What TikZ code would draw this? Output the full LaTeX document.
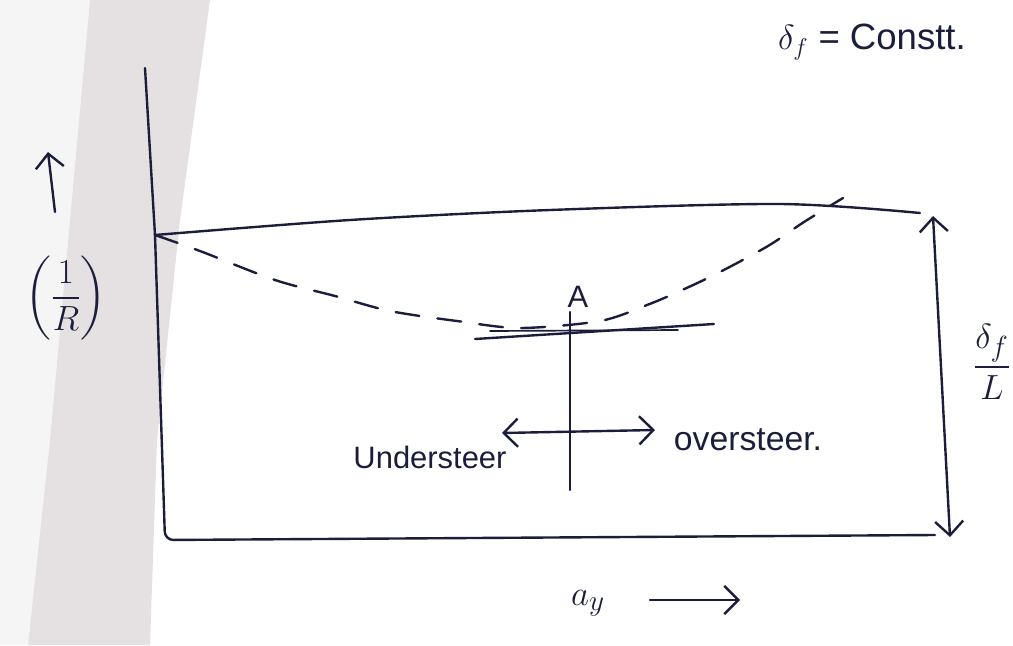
\documentclass[tikz,border=0pt]{standalone}
\usepackage{amsmath}
\usepackage{fontspec}
\setmainfont{Liberation Sans}
\usepackage{xcolor}
\usetikzlibrary{arrows.meta,positioning}
\definecolor{ink}{RGB}{26,30,58}
\definecolor{fold}{RGB}{229,224,226}
\definecolor{paper}{RGB}{246,245,246}
\tikzset{
  pen/.style={draw=ink, line width=1.7pt, line cap=round, line join=round},
  dashpen/.style={pen, dash pattern=on 17pt off 13pt},
  arr/.style={pen, -{Straight Barb[length=10pt,width=20pt]}},
  dblarr/.style={pen, {Straight Barb[length=10pt,width=20pt]}-{Straight Barb[length=10pt,width=20pt]}},
  hand/.style={text=ink, inner sep=1pt, font=\fontsize{22}{26}\selectfont},
  bighand/.style={hand, font=\fontsize{30}{34}\selectfont},
}

\begin{document}
\begin{tikzpicture}[x=0.025cm, y=-0.025cm]
  \useasboundingbox (0,0) rectangle (1013,645);
  % paper fold on the left
  \fill[paper] (0,0) -- (90,0) -- (50,440) -- (28,645) -- (0,645) -- cycle;
  \fill[fold] (90,0) -- (210,0) -- (180,220) -- (157,440) -- (150,645)
    -- (28,645) -- (50,440) -- cycle;

  % axes corners
  \coordinate (ytop) at (145,68);
  \coordinate (orig) at (155,235);
  \coordinate (xl) at (165,540);
  \coordinate (xr) at (935,535);
  \draw[pen, rounded corners=6pt] (ytop) -- (orig) -- (xl) -- (xr);

  % steady state line and dashed curve
  \draw[pen] plot[smooth] coordinates {(155,235) (350,220) (550,210) (780,204) (920,213)};
  \draw[dashpen] plot[smooth] coordinates {(155,235) (200,251) (275,280) (335,296)
    (390,311) (457,321) (520,328) (600,321) (647,305) (680,291) (718,273)
    (768,246) (804,222) (843,198)};

  % point A
  \coordinate (hl1) at (475,339);
  \coordinate (hr1) at (714,324);
  \coordinate (hl2) at (490,331);
  \coordinate (hr2) at (678,330);
  \draw[pen] (hl1) -- (hr1);
  \draw[pen, line width=1.2pt] (hl2) -- (hr2);
  \node[hand] (A) at (578,297) {A};
  \coordinate (vtop) at (570,312);
  \coordinate (vbot) at (570,490);
  \draw[pen] (vtop) -- (vbot);

  % understeer / oversteer
  \node[hand] (under) at (430,457) {Understeer};
  \node[hand, font=\fontsize{24}{28}\selectfont] (over) at (748,440) {oversteer.};
  \coordinate (usl) at (502,433);
  \coordinate (usr) at (655,430);
  \draw[dblarr] (usl) -- (usr);

  % right bracket
  \coordinate (rtop) at (933,216);
  \coordinate (rbot) at (950,537);
  \draw[dblarr] (rtop) -- (rbot);
  \node[bighand] (ratio) at (992,362) {$\dfrac{\delta_f}{L}$};

  % axis labels
  \node[bighand] (curv) at (66,298) {$\left(\dfrac{1}{R}\right)$};
  \coordinate (upbot) at (55,212);
  \coordinate (uptip) at (48,152);
  \draw[arr] (upbot) -- (uptip);
  \node[bighand] (ay) at (588,603) {$a_y$};
  \coordinate (ayl) at (650,600);
  \coordinate (ayr) at (740,600);
  \draw[arr] (ayl) -- (ayr);
  \node[hand, font=\fontsize{26}{30}\selectfont] (const) at (872,42) {$\delta_f$ = Constt.};
\end{tikzpicture}
\end{document}
